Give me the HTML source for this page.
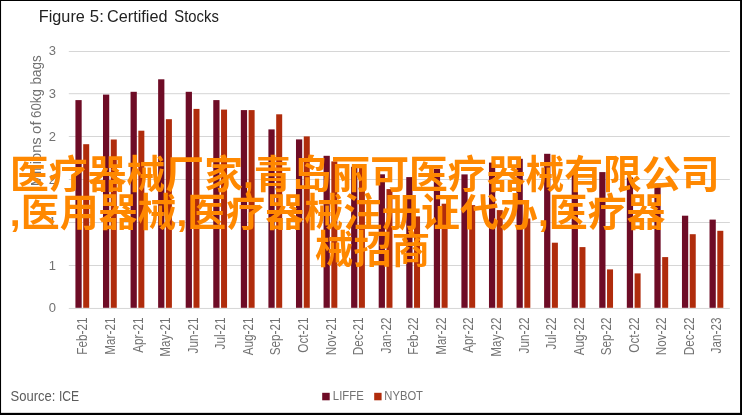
<!DOCTYPE html>
<html lang="en"><head><meta charset="utf-8"><title>Figure 5: Certified Stocks</title>
<style>html,body{margin:0;padding:0;background:#fff;}body{width:742px;height:415px;overflow:hidden;}svg{display:block;}text{font-family:"Liberation Sans",sans-serif;}.t{filter:grayscale(1);}</style></head><body>
<svg width="742" height="415" viewBox="0 0 742 415">
<rect x="0" y="0" width="742" height="415" fill="#fff"/>
<g stroke="#d6d6d6" stroke-width="1" shape-rendering="auto">
<line x1="68.80" y1="51.50" x2="729.85" y2="51.50"/>
<line x1="68.80" y1="93.70" x2="729.85" y2="93.70"/>
<line x1="68.80" y1="136.50" x2="729.85" y2="136.50"/>
<line x1="68.80" y1="179.50" x2="729.85" y2="179.50"/>
<line x1="68.80" y1="222.50" x2="729.85" y2="222.50"/>
<line x1="68.80" y1="265.50" x2="729.85" y2="265.50"/>
<line x1="68.80" y1="308.45" x2="729.85" y2="308.45"/>
</g>
<g fill="#6e0c26">
<rect x="75.42" y="100.10" width="6.25" height="207.70"/>
<rect x="102.99" y="94.60" width="6.25" height="213.20"/>
<rect x="130.56" y="91.80" width="6.25" height="216.00"/>
<rect x="158.13" y="79.30" width="6.25" height="228.50"/>
<rect x="185.70" y="91.80" width="6.25" height="216.00"/>
<rect x="213.27" y="100.10" width="6.25" height="207.70"/>
<rect x="240.84" y="110.10" width="6.25" height="197.70"/>
<rect x="268.41" y="129.40" width="6.25" height="178.40"/>
<rect x="295.98" y="139.40" width="6.25" height="168.40"/>
<rect x="323.55" y="155.80" width="6.25" height="152.00"/>
<rect x="351.12" y="166.80" width="6.25" height="141.00"/>
<rect x="378.69" y="174.30" width="6.25" height="133.50"/>
<rect x="406.26" y="177.10" width="6.25" height="130.70"/>
<rect x="433.83" y="168.90" width="6.25" height="138.90"/>
<rect x="461.40" y="174.40" width="6.25" height="133.40"/>
<rect x="488.97" y="162.60" width="6.25" height="145.20"/>
<rect x="516.54" y="158.80" width="6.25" height="149.00"/>
<rect x="544.11" y="153.80" width="6.25" height="154.00"/>
<rect x="571.68" y="172.00" width="6.25" height="135.80"/>
<rect x="599.25" y="172.10" width="6.25" height="135.70"/>
<rect x="626.82" y="177.40" width="6.25" height="130.40"/>
<rect x="654.39" y="183.60" width="6.25" height="124.20"/>
<rect x="681.96" y="215.70" width="6.25" height="92.10"/>
<rect x="709.53" y="219.60" width="6.25" height="88.20"/>
</g><g fill="#b02c0c">
<rect x="83.20" y="144.20" width="6.00" height="163.60"/>
<rect x="110.77" y="139.50" width="6.00" height="168.30"/>
<rect x="138.34" y="130.70" width="6.00" height="177.10"/>
<rect x="165.91" y="119.20" width="6.00" height="188.60"/>
<rect x="193.48" y="108.90" width="6.00" height="198.90"/>
<rect x="221.05" y="109.60" width="6.00" height="198.20"/>
<rect x="248.62" y="110.10" width="6.00" height="197.70"/>
<rect x="276.19" y="114.30" width="6.00" height="193.50"/>
<rect x="303.76" y="136.40" width="6.00" height="171.40"/>
<rect x="331.33" y="161.40" width="6.00" height="146.40"/>
<rect x="358.90" y="167.90" width="6.00" height="139.90"/>
<rect x="386.47" y="189.10" width="6.00" height="118.70"/>
<rect x="414.04" y="216.40" width="6.00" height="91.40"/>
<rect x="441.61" y="203.70" width="6.00" height="104.10"/>
<rect x="469.18" y="205.10" width="6.00" height="102.70"/>
<rect x="496.75" y="210.10" width="6.00" height="97.70"/>
<rect x="524.32" y="218.50" width="6.00" height="89.30"/>
<rect x="551.89" y="242.70" width="6.00" height="65.10"/>
<rect x="579.46" y="247.10" width="6.00" height="60.70"/>
<rect x="607.03" y="269.40" width="6.00" height="38.40"/>
<rect x="634.60" y="273.40" width="6.00" height="34.40"/>
<rect x="662.17" y="257.10" width="6.00" height="50.70"/>
<rect x="689.74" y="234.20" width="6.00" height="73.60"/>
<rect x="717.31" y="230.80" width="6.00" height="77.00"/>
</g>
<rect x="322.2" y="392.8" width="7.5" height="7.5" fill="#6e0c26"/>
<rect x="374.2" y="392.8" width="7.4" height="7.5" fill="#b02c0c"/>
<g class="t">
<g fill="#727272" font-size="13" text-anchor="end">
<text x="55.9" y="54.85">3</text>
<text x="55.9" y="97.70">3</text>
<text x="55.9" y="140.70">2</text>
<text x="55.9" y="183.55">2</text>
<text x="55.9" y="226.45">1</text>
<text x="55.9" y="269.65">1</text>
<text x="55.9" y="311.75">0</text>
</g>
<g fill="#727272" font-size="14">
<text transform="translate(82.28 317.5) rotate(-90) scale(0.84 1)" text-anchor="end" x="0" y="5.1">Feb-21</text>
<text transform="translate(109.86 317.5) rotate(-90) scale(0.84 1)" text-anchor="end" x="0" y="5.1">Mar-21</text>
<text transform="translate(137.42 317.5) rotate(-90) scale(0.84 1)" text-anchor="end" x="0" y="5.1">Apr-21</text>
<text transform="translate(165.00 317.5) rotate(-90) scale(0.84 1)" text-anchor="end" x="0" y="5.1">May-21</text>
<text transform="translate(192.56 317.5) rotate(-90) scale(0.84 1)" text-anchor="end" x="0" y="5.1">Jun-21</text>
<text transform="translate(220.13 317.5) rotate(-90) scale(0.84 1)" text-anchor="end" x="0" y="5.1">Jul-21</text>
<text transform="translate(247.70 317.5) rotate(-90) scale(0.84 1)" text-anchor="end" x="0" y="5.1">Aug-21</text>
<text transform="translate(275.27 317.5) rotate(-90) scale(0.84 1)" text-anchor="end" x="0" y="5.1">Sep-21</text>
<text transform="translate(302.84 317.5) rotate(-90) scale(0.84 1)" text-anchor="end" x="0" y="5.1">Oct-21</text>
<text transform="translate(330.42 317.5) rotate(-90) scale(0.84 1)" text-anchor="end" x="0" y="5.1">Nov-21</text>
<text transform="translate(357.99 317.5) rotate(-90) scale(0.84 1)" text-anchor="end" x="0" y="5.1">Dec-21</text>
<text transform="translate(385.56 317.5) rotate(-90) scale(0.84 1)" text-anchor="end" x="0" y="5.1">Jan-22</text>
<text transform="translate(413.12 317.5) rotate(-90) scale(0.84 1)" text-anchor="end" x="0" y="5.1">Feb-22</text>
<text transform="translate(440.69 317.5) rotate(-90) scale(0.84 1)" text-anchor="end" x="0" y="5.1">Mar-22</text>
<text transform="translate(468.26 317.5) rotate(-90) scale(0.84 1)" text-anchor="end" x="0" y="5.1">Apr-22</text>
<text transform="translate(495.83 317.5) rotate(-90) scale(0.84 1)" text-anchor="end" x="0" y="5.1">May-22</text>
<text transform="translate(523.41 317.5) rotate(-90) scale(0.84 1)" text-anchor="end" x="0" y="5.1">Jun-22</text>
<text transform="translate(550.98 317.5) rotate(-90) scale(0.84 1)" text-anchor="end" x="0" y="5.1">Jul-22</text>
<text transform="translate(578.55 317.5) rotate(-90) scale(0.84 1)" text-anchor="end" x="0" y="5.1">Aug-22</text>
<text transform="translate(606.12 317.5) rotate(-90) scale(0.84 1)" text-anchor="end" x="0" y="5.1">Sep-22</text>
<text transform="translate(633.69 317.5) rotate(-90) scale(0.84 1)" text-anchor="end" x="0" y="5.1">Oct-22</text>
<text transform="translate(661.25 317.5) rotate(-90) scale(0.84 1)" text-anchor="end" x="0" y="5.1">Nov-22</text>
<text transform="translate(688.83 317.5) rotate(-90) scale(0.84 1)" text-anchor="end" x="0" y="5.1">Dec-22</text>
<text transform="translate(716.39 317.5) rotate(-90) scale(0.84 1)" text-anchor="end" x="0" y="5.1">Jan-23</text>
</g>
<text fill="#727272" font-size="14" transform="translate(40.6 186.3) rotate(-90)" textLength="49.0" lengthAdjust="spacingAndGlyphs">Millions</text>
<text fill="#727272" font-size="14" transform="translate(40.6 133.9) rotate(-90)" textLength="12.6" lengthAdjust="spacingAndGlyphs">of</text>
<text fill="#727272" font-size="14" transform="translate(40.6 118.0) rotate(-90)" textLength="28.8" lengthAdjust="spacingAndGlyphs">60kg</text>
<text fill="#727272" font-size="14" transform="translate(40.6 84.5) rotate(-90)" textLength="29.1" lengthAdjust="spacingAndGlyphs">bags</text>
<text x="38.80" y="22.3" font-size="16.5" fill="#222" textLength="46.05" lengthAdjust="spacingAndGlyphs">Figure</text>
<text x="89.80" y="22.3" font-size="16.5" fill="#222" textLength="14.00" lengthAdjust="spacingAndGlyphs">5:</text>
<text x="107.05" y="22.3" font-size="16.5" fill="#222" textLength="60.45" lengthAdjust="spacingAndGlyphs">Certified</text>
<text x="174.35" y="22.3" font-size="16.5" fill="#222" textLength="44.45" lengthAdjust="spacingAndGlyphs">Stocks</text>
<text x="10.6" y="401.4" font-size="14" fill="#5c5c5c" textLength="44.85" lengthAdjust="spacingAndGlyphs">Source:</text>
<text x="58.9" y="401.4" font-size="14" fill="#5c5c5c" textLength="20.2" lengthAdjust="spacingAndGlyphs">ICE</text>
<text x="332.85" y="400.3" font-size="13" fill="#727272" textLength="30.85" lengthAdjust="spacingAndGlyphs">LIFFE</text>
<text x="384.3" y="400.3" font-size="13" fill="#727272" textLength="38.7" lengthAdjust="spacingAndGlyphs">NYBOT</text>
</g>
<g fill="#ff8800" font-size="38.1" font-weight="bold" style="font-family:'Liberation Sans','Noto Sans CJK SC',sans-serif;">
<text x="10.05" y="187.5" textLength="709.5" lengthAdjust="spacingAndGlyphs" style="font-family:'Liberation Sans','Noto Sans CJK SC',sans-serif;">医疗器械厂家,青岛丽可医疗器械有限公司</text>
<text x="9.88" y="225.5" textLength="655.7" lengthAdjust="spacingAndGlyphs" style="font-family:'Liberation Sans','Noto Sans CJK SC',sans-serif;">,医用器械,医疗器械注册证代办,医疗器</text>
<text x="315.1" y="263.25" textLength="115" lengthAdjust="spacingAndGlyphs" style="font-family:'Liberation Sans','Noto Sans CJK SC',sans-serif;">械招商</text>
</g>
<rect x="0" y="0" width="742" height="1" fill="#000"/>
<rect x="0" y="0" width="1.05" height="415" fill="#000"/>
<rect x="740.05" y="0" width="1.95" height="415" fill="#000"/>
<rect x="0" y="412.85" width="742" height="2.15" fill="#000"/>
</svg></body></html>
